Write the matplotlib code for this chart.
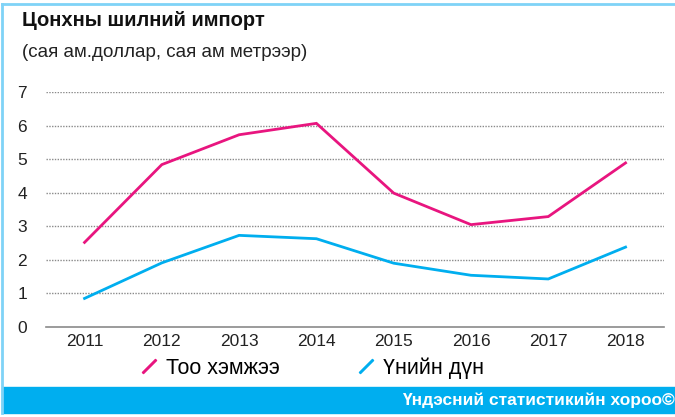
import matplotlib
matplotlib.use('Agg')
import matplotlib.pyplot as plt
from matplotlib.lines import Line2D
from matplotlib.patches import Rectangle

years = [2011, 2012, 2013, 2014, 2015, 2016, 2017, 2018]
quantity = [2.52, 4.84, 5.73, 6.07, 3.99, 3.05, 3.29, 4.89]
value = [0.85, 1.91, 2.73, 2.63, 1.90, 1.54, 1.43, 2.38]
yticks = [0, 1, 2, 3, 4, 5, 6, 7]

pink = '#e8157f'
blue = '#00aeef'
font = ['Liberation Sans', 'DejaVu Sans']

fig = plt.figure(figsize=(6.75, 4.17), dpi=100)
ax = fig.add_axes([0.068, 0.216, 0.916, 0.563])

ax.plot(years, quantity, color=pink, lw=2.0, solid_joinstyle='miter')
ax.plot(years, value, color=blue, lw=2.0, solid_joinstyle='miter')

ax.set_xlim(2010.5, 2018.5)
ax.set_ylim(0, 7)
ax.set_xticks(years)
ax.set_yticks(yticks)
ax.set_xticklabels([str(y) for y in years], family=font, fontsize=12.5, color='#222222')
ax.set_yticklabels([str(y) for y in yticks], family=font, fontsize=12.5, color='#222222')
ax.tick_params(axis='both', length=0)
ax.tick_params(axis='x', pad=5)
ax.tick_params(axis='y', pad=13.5)
for y in yticks[1:]:
    ax.axhline(y, color='#8a8a8a', lw=1.0, ls=(0, (1, 1)), zorder=0)
for s in ['top', 'right', 'left']:
    ax.spines[s].set_visible(False)
ax.spines['bottom'].set_color('#8a8a8a')
ax.spines['bottom'].set_linewidth(1.2)

# legend with slanted strokes
handles = [Line2D([], [], ls='none', marker=(2, 2, -45), markersize=14,
                  markeredgewidth=1.8, color=c) for c in (pink, blue)]
fig.legend(handles, ['Тоо хэмжээ', 'Үнийн дүн'], loc='center',
           bbox_to_anchor=(0.461, 0.117), ncol=2, frameon=False,
           prop={'family': font, 'size': 15.5}, handlelength=1.0,
           handletextpad=0.3, columnspacing=3.5)

# titles
fig.text(0.033, 0.952, 'Цонхны шилний импорт', family=font, weight='bold',
         fontsize=14.5, va='center', ha='left', color='#111111')
fig.text(0.033, 0.875, '(сая ам.доллар, сая ам метрээр)', family=font,
         fontsize=13.5, va='center', ha='left', color='#222222')

# frame and footer band
fig.add_artist(Line2D([0.003, 1], [0.99, 0.99], transform=fig.transFigure,
                      color='#7fd3f7', lw=2))
fig.add_artist(Line2D([0.003, 0.003], [0.99, 0.01], transform=fig.transFigure,
                      color='#7fd3f7', lw=2))
fig.add_artist(Rectangle((0.003, 0.01), 0.997, 0.062, transform=fig.transFigure,
                         color=blue, zorder=0))
fig.text(0.999, 0.041, 'Үндэсний статистикийн хороо©', family=font,
         weight='bold', fontsize=12.5, color='white', ha='right', va='center')

fig.savefig('out.png', dpi=100)
